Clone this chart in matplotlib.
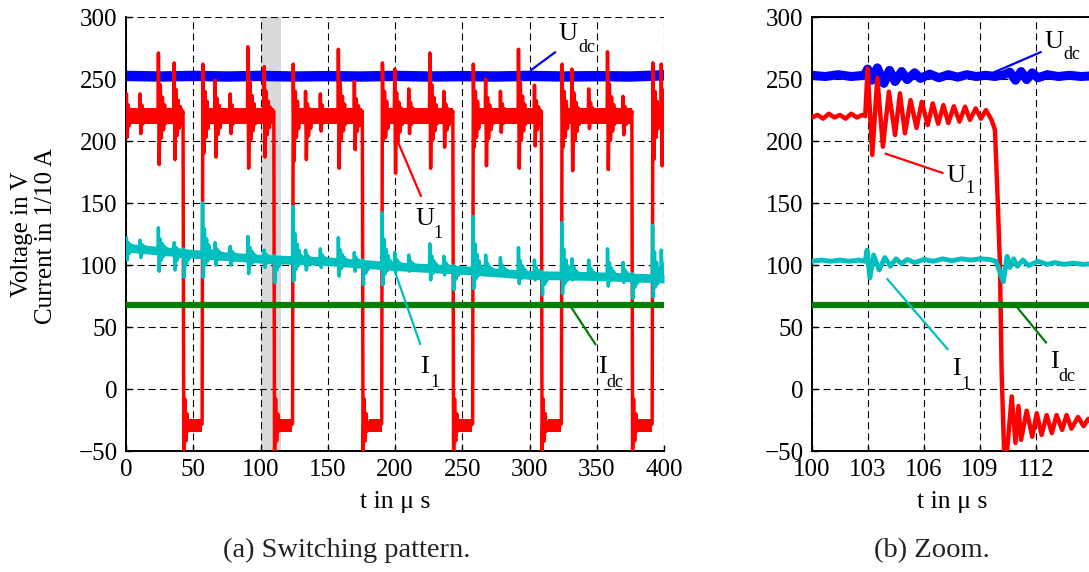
import numpy as np
import matplotlib
matplotlib.use("Agg")
import matplotlib.pyplot as plt

plt.rcParams["font.family"] = ["Liberation Serif", "DejaVu Serif"]
plt.rcParams["lines.scale_dashes"] = False

# ─────────────────────────────────────────────
#  (a) switching pattern, 0..400 us
# ─────────────────────────────────────────────
T_FALL = [42.7, 110.2, 176.0, 243.3, 309.1, 376.4]
T_RISE = [56.9, 124.1, 190.4, 258.0, 324.0, 391.5]
U1_HIGH = 220
U1_LOW = -30
RISE_PEAK = [262, 262, 263, 262, 262, 263]
RISE_TROUGH = [190, 184, 200, 195, 195, 185]
LOW_RING = [-8, -42, -20, -34, -27]          # ringing after each turn-off

# spikes on the high plateau (switching of the other phases)
SPIKE_T = [0.3, 10.4, 24.1, 35.8, 66.3, 77.5, 90.6, 102.8, 133.5, 144.5,
           157.9, 169.8, 199.8, 210.2, 225.9, 236.3, 267.4, 278.4, 291.8,
           303.7, 331.5, 344.0, 358.0, 369.5, 398.0]
U1_PEAK = [238, 238, 271, 263, 249, 238, 276, 260, 240, 238, 274, 248, 258,
           242, 271, 240, 250, 240, 274, 245, 258, 242, 272, 236, 262]
U1_TROUGH = [203, 206, 181, 185, 187, 206, 178, 187, 185, 208, 178, 193, 174,
             206, 178, 195, 180, 207, 178, 196, 176, 210, 177, 205, 180]

I1_T = [0, 50, 100, 150, 200, 250, 300, 350, 400]
I1_BASE = [114, 109, 105, 103, 99, 96, 92, 91, 89]
I1_PEAK = [122, 120, 130, 118, 118, 115, 123, 112, 112, 113, 122, 110, 110,
           108, 117, 107, 108, 106, 114, 104, 105, 104, 113, 102, 112]
I1_TROUGH = [104, 106, 95, 96, 100, 100, 93, 98, 96, 98, 91, 95, 94, 95, 88,
             92, 92, 92, 85, 88, 88, 89, 83, 86, 88]
I1_RISE_PEAK = [150, 147, 142, 139, 134, 132]
I1_RISE_TROUGH = [90, 87, 84, 81, 77, 74]
I1_FALL_DIP = [90, 86, 84, 80, 76, 73]

UDC_T = [0, 25, 50, 75, 100, 125, 150, 175, 200, 225, 250, 275, 300, 325,
         350, 375, 400]
UDC_V = [252.5, 252, 252.5, 252, 252.5, 252, 252.3, 252, 252.5, 252, 252.3,
         252, 252.5, 252, 252.3, 252, 253]
IDC_T = [0, 400]
IDC_V = [68, 68]

# ─────────────────────────────────────────────
#  (b) zoom, 100..115 us
# ─────────────────────────────────────────────
Z_U1_T = [100, 100.3, 100.6, 100.9, 101.2, 101.5, 101.8, 102.1, 102.4, 102.7,
          102.85, 102.98, 103.23, 103.5,
          103.8, 104.12, 104.45, 104.71, 104.98, 105.28, 105.6, 105.88, 106.2,
          106.47, 106.76, 107.04, 107.3, 107.6, 107.9, 108.2, 108.46, 108.77,
          109.05, 109.32, 109.62, 109.8, 109.95, 110.07, 110.16, 110.3, 110.42,
          110.7, 110.9, 111.06, 111.2, 111.5, 111.8, 112.04, 112.3, 112.57,
          112.85, 113.1, 113.4, 113.64, 113.9, 114.25, 114.55, 114.8, 115]
Z_U1_V = [219, 221, 218, 222, 219, 221, 218, 222, 219, 221, 220,
          258.6, 188.7, 251, 195.4, 239.8,
          204.8, 238.5, 206.2, 233, 210.5, 231.6, 212.9, 230.3, 213.8, 229,
          214.5, 228, 215.6, 227.7, 217, 226.3, 218, 225, 217, 209, 152, 99,
          13, -55, -55, -6, -43.5, -13.7, -41, -17.5, -38.5, -19.6, -37, -21,
          -35.6, -21, -33, -21, -32, -22.6, -30, -24, -28]

Z_I1_T = [100, 100.5, 101, 101.5, 102, 102.5, 102.85, 102.95, 103.1, 103.3,
          103.6, 103.9, 104.2, 104.5, 104.8, 105.1, 105.5, 106, 106.5, 107,
          107.5, 108, 108.5, 109, 109.5, 109.85, 110.0, 110.25, 110.45, 110.6,
          110.8, 111.0, 111.3, 111.6, 112.1, 112.6, 113, 113.5, 114, 114.5, 115]
Z_I1_V = [103, 104, 103, 104, 103, 104, 103, 112, 89.5, 108, 96, 106, 99, 105,
          101, 104.5, 102, 104.5, 103, 105, 103.5, 105, 104, 105, 104.5, 103,
          97, 86.5, 107, 98, 105, 99, 104, 99.5, 103, 100.5, 102, 100.5, 101.5,
          100.5, 101]

Z_UDC_T = [100, 100.7, 101.4, 102.1, 102.8, 102.98, 103.2, 103.5, 103.85,
           104.15, 104.45, 104.8, 105.1, 105.5, 105.8, 106.3, 106.8, 107.3,
           107.8, 108.3, 108.8, 109.3, 109.8, 110.3, 110.6, 110.9, 111.2,
           111.5, 111.8, 112.1, 112.6, 113.2, 113.8, 114.4, 115]
Z_UDC_V = [253, 252, 253.5, 252, 253, 258, 249, 259, 246.5, 257, 248, 256,
           249.5, 255, 250.5, 254, 251, 253.5, 251.5, 253.5, 252, 253, 252,
           253.5, 255.5, 249, 256, 249.5, 255, 251, 253.5, 252, 253, 252, 252.5]
Z_IDC_T = [100, 115]
Z_IDC_V = [68, 68]

C_UDC, C_U1, C_I1, C_IDC = "#0000ff", "#ff0000", "#00bfbf", "#007f00"
TICK_FS = 18
RING = [0.5, -0.45, 0.3, -0.28, 0.18, -0.15, 0.08]   # decay of each spike


def _spike_pts(t, hi, lo, b, t_end=None):
    pts = [(t - 0.3, b), (t, hi), (t + 0.6, lo)]
    for k, f in enumerate(RING):
        amp = (hi - b) if f > 0 else (b - lo)
        pts.append((t + 1.4 + 0.8 * k, b + f * amp))
    pts.append((t + 1.4 + 0.8 * len(RING), b))
    if t_end is not None:
        pts = [p for p in pts if p[0] < t_end]
    return pts


def _u1_trace():
    pts = [(0, U1_HIGH), (400, U1_HIGH)]
    for t, hi, lo in zip(SPIKE_T, U1_PEAK, U1_TROUGH):
        nxt = [f for f in T_FALL if f > t]
        t_end = (nxt[0] - 0.5) if nxt else None
        pts += _spike_pts(t, hi, lo, U1_HIGH, t_end)
    for f, r, hi, lo in zip(T_FALL, T_RISE, RISE_PEAK, RISE_TROUGH):
        pts += [(f - 0.3, U1_HIGH + 4), (f + 0.25, -55)]
        pts += [(f + 1.0 + 0.8 * k, v) for k, v in enumerate(LOW_RING)]
        pts += [(r - 2.0, U1_LOW), (r - 0.3, U1_LOW + 2)]
        pts += [(r + 0.25, hi), (r + 0.9, lo), (r + 1.8, 240), (r + 2.6, 203),
                (r + 3.4, 232), (r + 4.2, 210), (r + 5.0, U1_HIGH)]
    pts = [p for p in pts if 0 <= p[0] <= 400]
    pts.sort()
    return np.array(pts).T


def _i1_trace():
    ev = list(zip(SPIKE_T, I1_PEAK, I1_TROUGH))
    ev += list(zip(T_RISE, I1_RISE_PEAK, I1_RISE_TROUGH))
    ev += [(f, np.interp(f, I1_T, I1_BASE) + 3, d) for f, d in zip(T_FALL, I1_FALL_DIP)]
    pts = list(zip(I1_T, I1_BASE))
    for t, hi, lo in ev:
        pts += _spike_pts(t, hi, lo, np.interp(t, I1_T, I1_BASE))
    pts = [p for p in pts if 0 <= p[0] <= 400]
    pts.sort()
    return np.array(pts).T


def _style(ax, xlim, xticks, box):
    ax.set_xlim(*xlim)
    ax.set_ylim(-50, 300)
    ax.set_xticks(xticks)
    ax.set_yticks(range(-50, 301, 50))
    ax.set_yticklabels(["\u221250"] + [str(v) for v in range(0, 301, 50)])
    ax.set_axisbelow(True)
    ax.grid(True, color="black", lw=0.8, ls=(0, (5, 3)))
    ax.tick_params(direction="in", length=4, width=1, labelsize=TICK_FS, pad=6)
    for s in ax.spines.values():
        s.set_linewidth(1.4)
    if not box:
        ax.spines["top"].set_visible(False)
        ax.spines["right"].set_visible(False)


def _label(ax, x, y, main, sub, x2, y2, color, line):
    ax.plot(line[0], line[1], color=color, lw=1.6, zorder=6, solid_capstyle="butt")
    ax.text(x, y, main, fontsize=19, ha="left", va="baseline", zorder=7)
    ax.text(x2, y2, sub, fontsize=13, ha="left", va="baseline", zorder=7)


fig = plt.figure(figsize=(10.89, 5.72), dpi=100)

# ---- (a)
ax1 = fig.add_axes([126 / 1089, 1 - 451 / 572, 538 / 1089, 434 / 572])
_style(ax1, (0, 400), range(0, 401, 50), box=False)
ax1.axvspan(100, 115.5, color="#d9d9d9", lw=0, zorder=0.2)

ax1.plot(UDC_T, UDC_V, color=C_UDC, lw=7.5, zorder=2)

ut, uv = _u1_trace()
highs = [(0, T_FALL[0])] + list(zip(T_RISE, T_FALL[1:] + [400]))
for a, b in highs:
    ax1.fill_between([a + 1.5, b - 0.4], 214, 227, color=C_U1, lw=0, zorder=3)
for a, b in zip(T_FALL, T_RISE):
    ax1.fill_between([a + 4.5, b - 0.4], U1_LOW - 5, U1_LOW + 6, color=C_U1, lw=0, zorder=3)
ax1.plot(ut, uv, color=C_U1, lw=2.5, zorder=3)

it, iv = _i1_trace()
ax1.fill_between(I1_T, np.array(I1_BASE) - 3.5, np.array(I1_BASE) + 3.5,
                 color=C_I1, lw=0, zorder=4)
ax1.plot(it, iv, color=C_I1, lw=2.5, zorder=4)

ax1.plot(IDC_T, IDC_V, color=C_IDC, lw=4.5, zorder=5)

_label(ax1, 321.8, 281.5, "U", "dc", 336.7, 271.8, C_UDC, ([319.6, 300.9], [272, 257]))
_label(ax1, 215.3, 132.3, "U", "1", 228.7, 121.8, C_U1, ([201.6, 219.5], [200.8, 155]))
_label(ax1, 219.0, 12.9, "I", "1", 226.4, 1.6, C_I1, ([200.4, 219.0], [93.3, 35.5]))
_label(ax1, 350.8, 12.9, "I", "dc", 356.8, 1.6, C_IDC, ([330.7, 349.4], [66.4, 35.5]))

# ---- (b)
ax2 = fig.add_axes([812 / 1089, 1 - 451 / 572, 280 / 1089, 434 / 572])
_style(ax2, (100, 115), range(100, 113, 3), box=True)

ax2.plot(Z_UDC_T, Z_UDC_V, color=C_UDC, lw=6.5, zorder=2)
ax2.plot(Z_U1_T, Z_U1_V, color=C_U1, lw=3.2, zorder=3)
ax2.plot(Z_I1_T, Z_I1_V, color=C_I1, lw=3.5, zorder=4)
ax2.plot(Z_IDC_T, Z_IDC_V, color=C_IDC, lw=4.5, zorder=5)

_label(ax2, 112.48, 275, "U", "dc", 113.44, 266.5, C_UDC, ([109.63, 112.3], [254.6, 272]))
_label(ax2, 107.23, 166.9, "U", "1", 108.2, 158, C_U1, ([103.9, 107.04], [190, 174]))
_label(ax2, 107.5, 11.3, "I", "1", 108.03, 0, C_I1, ([104.0, 107.3], [89.3, 31.5]))
_label(ax2, 112.75, 16.9, "I", "dc", 113.18, 6.5, C_IDC, ([110.96, 112.57], [66.4, 36.9]))

# ---- axis labels and captions
fig.text(22 / 1089, 1 - 234 / 572, "Voltage in V", rotation=90,
         ha="center", va="center", fontsize=TICK_FS)
fig.text(46 / 1089, 1 - 236 / 572, "Current in 1/10 A", rotation=90,
         ha="center", va="center", fontsize=TICK_FS)
fig.text(395 / 1089, 1 - 508 / 572, "t in \u03bc s", ha="center", va="baseline",
         fontsize=TICK_FS + 0.5)
fig.text(952 / 1089, 1 - 508 / 572, "t in \u03bc s", ha="center", va="baseline",
         fontsize=TICK_FS + 0.5)
fig.text(347 / 1089, 1 - 557 / 572, "(a) Switching pattern.", ha="center",
         va="baseline", fontsize=20.5, color="#222222")
fig.text(932 / 1089, 1 - 557 / 572, "(b) Zoom.", ha="center", va="baseline",
         fontsize=20.5, color="#222222")

fig.savefig("out.png", dpi=100)
plt.close(fig)
